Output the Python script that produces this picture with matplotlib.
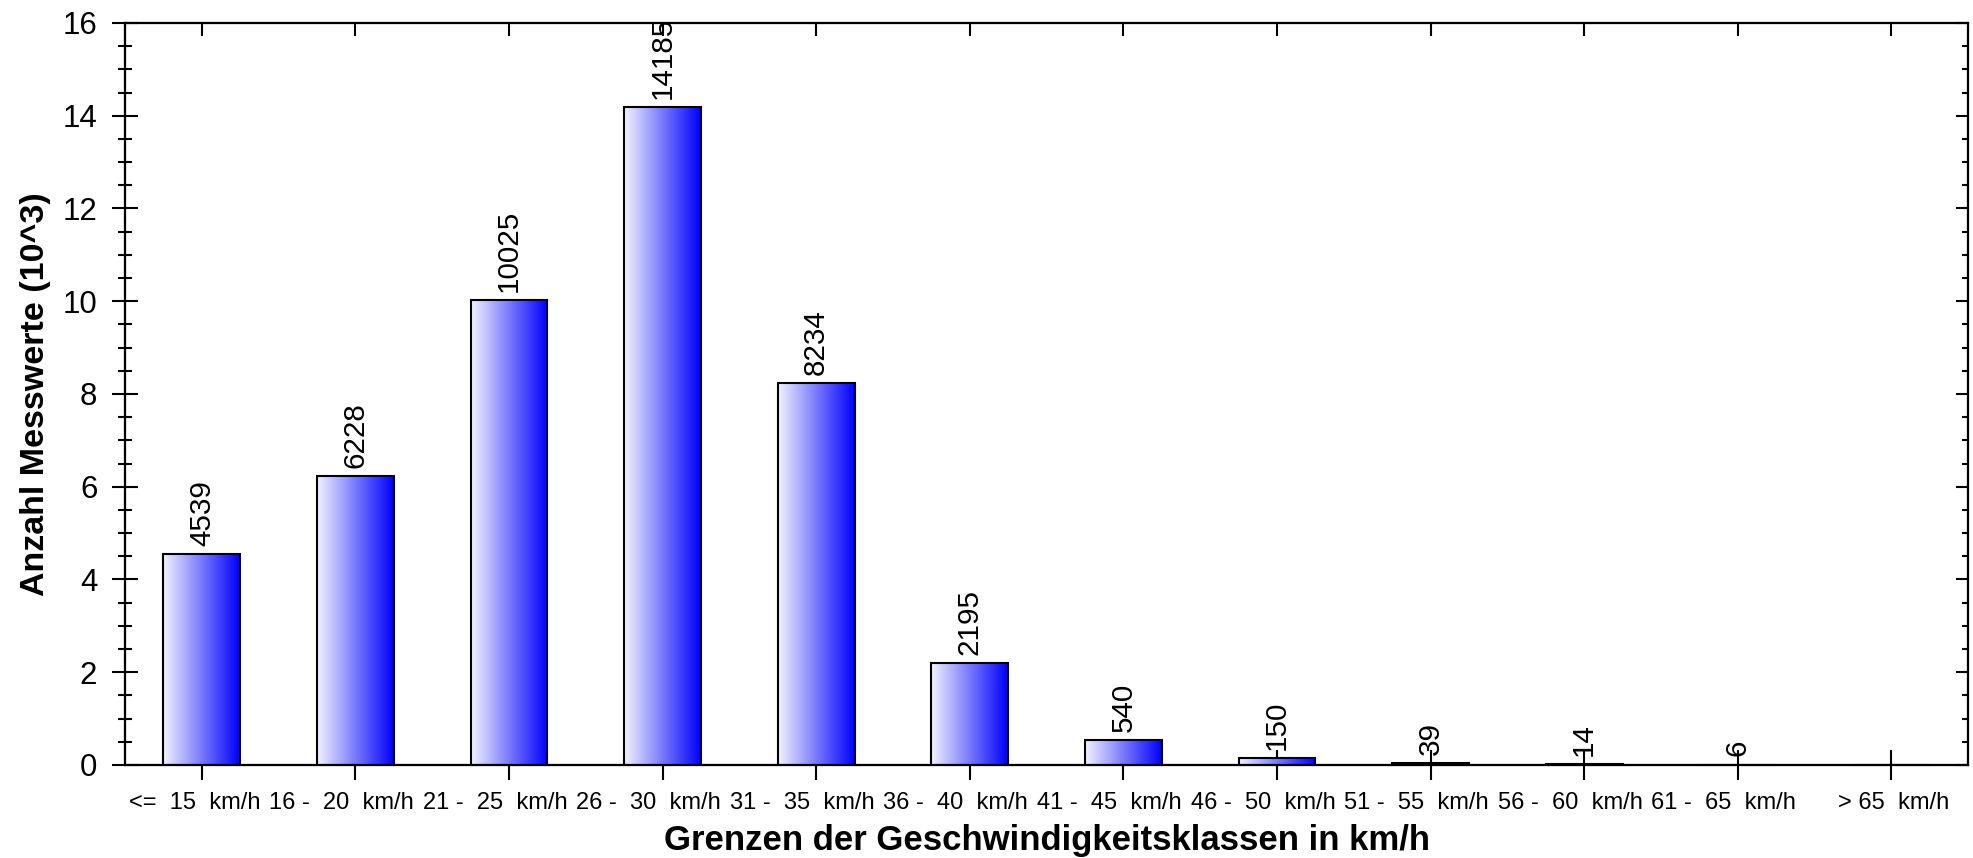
import numpy as np
import matplotlib
matplotlib.use("Agg")
import matplotlib.pyplot as plt
from matplotlib.colors import LinearSegmentedColormap
from matplotlib.ticker import MultipleLocator

plt.rcParams['font.family'] = ['Liberation Sans', 'DejaVu Sans']

# speed classes and number of measurements
classes = ['<=  15  km/h', '16 -  20  km/h', '21 -  25  km/h', '26 -  30  km/h',
           '31 -  35  km/h', '36 -  40  km/h', '41 -  45  km/h', '46 -  50  km/h',
           '51 -  55  km/h', '56 -  60  km/h', '61 -  65  km/h', '> 65  km/h']
counts = [4539, 6228, 10025, 14185, 8234, 2195, 540, 150, 39, 14, 6, 0]

x = np.arange(len(classes))
vals = np.array(counts) / 1000.0
w = 0.5

fig = plt.figure(figsize=(19.73, 8.58), dpi=100)
ax = fig.add_axes([0.0634, 0.1084, 0.9341, 0.8648])

# gradient fill: light lavender on the left, pure blue on the right
cmap = LinearSegmentedColormap.from_list('grad', [(0.95, 0.95, 1.0), (0.0, 0.0, 1.0)])
grad = np.linspace(0, 1, 256).reshape(1, -1)
for xi, v in zip(x, vals):
    if v > 0:
        ax.imshow(grad, extent=[xi - w / 2, xi + w / 2, 0, v], aspect='auto',
                  cmap=cmap, zorder=3, interpolation='bilinear')
ax.bar(x, vals, width=w, facecolor='none', edgecolor='black', linewidth=1.5, zorder=4)

for xi, v, c in zip(x, vals, counts):
    if c > 0:
        ax.annotate(str(c), (xi, v), xytext=(0, 6), textcoords='offset points',
                    rotation=90, ha='center', va='bottom', fontsize=21.3,
                    annotation_clip=False, zorder=5)

ax.set_xlim(-0.5, len(classes) - 0.5)
ax.set_ylim(0, 16)
ax.set_xticks(x)
ax.set_xticklabels([])
# class labels: the upper bound sits just left of the tick, unit to the right
for xi, lab in zip(x, classes):
    ax.annotate(lab, (xi, 0), xycoords=('data', 'axes fraction'),
                xytext=(42, -19.5), textcoords='offset points',
                ha='right', va='top', fontsize=17, annotation_clip=False)

ax.yaxis.set_major_locator(MultipleLocator(2))
ax.yaxis.set_minor_locator(MultipleLocator(0.5))
ax.tick_params(axis='y', which='major', direction='inout', length=19, width=1.5,
               labelsize=22.5, pad=10.5, right=False)
ax.tick_params(axis='y', which='minor', direction='inout', length=10, width=1.5, right=False)
ax.tick_params(axis='x', which='major', direction='inout', length=21, width=1.5,
               pad=9, top=False)
for s in ax.spines.values():
    s.set_linewidth(1.5)

# right and top ticks point inwards
axr = ax.twinx()
axr.set_ylim(0, 16)
axr.yaxis.set_major_locator(MultipleLocator(2))
axr.yaxis.set_minor_locator(MultipleLocator(0.5))
axr.tick_params(axis='y', which='major', direction='in', length=9, width=1.5, labelright=False)
axr.tick_params(axis='y', which='minor', direction='in', length=4.5, width=1.5)
axt = ax.twiny()
axt.set_xlim(ax.get_xlim())
axt.set_xticks(x)
axt.tick_params(axis='x', direction='in', length=9, width=1.5, labeltop=False)
for a in (axr, axt):
    for s in a.spines.values():
        s.set_linewidth(1.5)

ax.set_xlabel('Grenzen der Geschwindigkeitsklassen in km/h', fontsize=25, fontweight='bold')
ax.xaxis.set_label_coords(0.5, -0.079)
ax.xaxis.label.set_va('top')
ax.set_ylabel('Anzahl Messwerte (10^3)', fontsize=24.5, fontweight='bold')
ax.yaxis.set_label_coords(-0.04, 0.5)

fig.savefig('out.png', dpi=100)
